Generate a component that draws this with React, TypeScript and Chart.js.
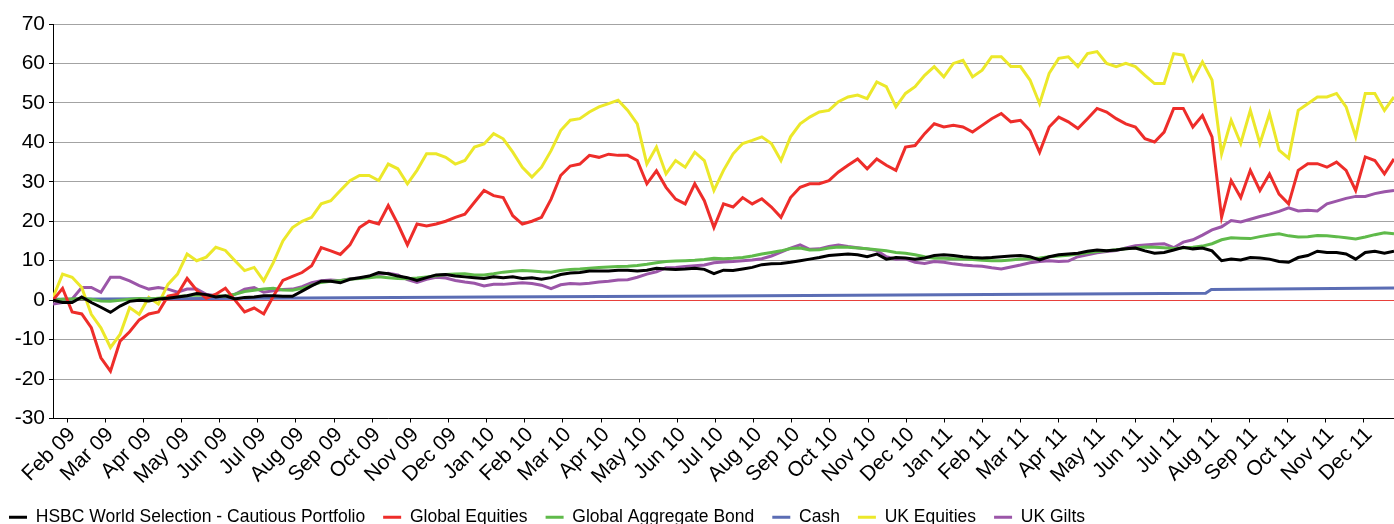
import React, { useEffect, useRef } from 'react';
import { Chart, registerables } from 'chart.js';

Chart.register(...registerables);

const monthLabels = [
  'Feb 09', 'Mar 09', 'Apr 09', 'May 09', 'Jun 09', 'Jul 09', 'Aug 09', 'Sep 09', 'Oct 09', 'Nov 09', 'Dec 09',
  'Jan 10', 'Feb 10', 'Mar 10', 'Apr 10', 'May 10', 'Jun 10', 'Jul 10', 'Aug 10', 'Sep 10', 'Oct 10', 'Nov 10', 'Dec 10',
  'Jan 11', 'Feb 11', 'Mar 11', 'Apr 11', 'May 11', 'Jun 11', 'Jul 11', 'Aug 11', 'Sep 11', 'Oct 11', 'Nov 11', 'Dec 11',
];

// month position of first and last observation (0 = Feb 09)
const startMonth = -0.37;
const endMonth = 34.79;

const hsbc = [
  0, -0.6, -0.6, 0.8, -0.6, -1.8, -3.1, -1.5, -0.3, 0, -0.2, 0.3, 0.5, 0.8, 1.1, 1.7, 1.4, 0.8, 1.1, 0.3, 0.7, 0.8, 1.1, 1.1,
  1, 1, 2.3, 3.6, 4.8, 4.8, 4.4, 5.3, 5.7, 6.1, 7, 6.7, 6.1, 5.7, 5, 5.7, 6.4, 6.5, 6.1, 5.9, 5.7, 5.5, 5.9,
  5.7, 5.9, 5.5, 5.7, 5.3, 5.7, 6.5, 6.9, 7, 7.4, 7.4, 7.4, 7.6, 7.6, 7.4, 7.6, 8.1, 7.9, 7.8, 7.9, 8.1, 7.8, 6.7,
  7.6, 7.5, 7.9, 8.3, 9, 9.2, 9.3, 9.6, 10, 10.4, 10.8, 11.3, 11.5, 11.7, 11.5, 11, 11.7, 10.4, 10.8, 10.7, 10.4, 10.7, 11.3,
  11.5, 11.3, 11, 10.8, 10.7, 10.8, 11, 11.2, 11.3, 11, 10.2, 11, 11.5, 11.7, 11.9, 12.4, 12.7, 12.5, 12.7, 13, 13.2, 12.5, 11.9,
  12.1, 12.7, 13.4, 13, 13.2, 12.5, 10, 10.4, 10.2, 10.8, 10.7, 10.4, 9.8, 9.6, 10.8, 11.3, 12.4, 12.1, 12.1, 11.7, 10.4, 12.1, 12.4, 11.9, 12.4,
];

const globalEquities = [
  0, 3, -3, -3.5, -7, -14.6, -18, -10.4, -8, -5, -3.5, -3, 1, 1.5, 5.5, 2.5, 0.5, 1.5, 3, 0, -3, -2, -3.5, 1,
  5, 6, 7, 8.7, 13.3, 12.5, 11.6, 14, 18.4, 20, 19.3, 24, 19.3, 14, 19.3, 18.8, 19.3, 20, 21, 21.8, 24.8, 27.8, 26.5,
  26, 21.4, 19.3, 20, 21, 25.6, 31.6, 34, 34.5, 36.7, 36.2, 37, 36.7, 36.7, 35.4, 29.5, 32.8, 28.6, 25.6, 24.4, 29.5, 25.2, 18.4,
  24.4, 23.6, 26, 24.4, 25.7, 23.6, 21, 26, 28.6, 29.5, 29.5, 30.3, 32.5, 34.2, 35.8, 33.3, 35.8, 34.2, 32.9, 38.8, 39.2, 42.2, 44.7,
  43.9, 44.3, 43.9, 42.6, 44.3, 46, 47.3, 45.2, 45.6, 43, 37.5, 43.9, 46.4, 45.2, 43.5, 46, 48.6, 47.7, 46, 44.7, 43.9, 40.9, 40.1,
  42.6, 48.6, 48.6, 43.9, 46.8, 41.4, 21, 30.3, 26, 32.9, 27.8, 32, 26.9, 24.4, 32.9, 34.6, 34.6, 33.7, 35, 32.9, 27.8, 36.3, 35.4, 32, 35.8,
];

const globalAggBond = [
  0, 0.2, 0.3, 0.4, 0.2, -0.2, -0.3, 0, 0.2, 0.4, 0.3, 0.5, 0.7, 0.9, 1.1, 1.3, 1.2, 1.1, 1.0, 1.5, 2.2, 2.5, 2.8, 3.0,
  2.6, 2.5, 3, 3.8, 4.5, 4.8, 5, 5.3, 5.5, 5.7, 5.9, 5.7, 5.5, 5.4, 5.6, 5.9, 6.2, 6.5, 6.6, 6.7, 6.4, 6.4, 6.7,
  7.1, 7.3, 7.5, 7.4, 7.2, 7.1, 7.5, 7.8, 7.9, 8.1, 8.3, 8.4, 8.5, 8.6, 8.8, 9.1, 9.5, 9.8, 9.9, 10, 10.1, 10.3, 10.6,
  10.5, 10.6, 10.8, 11.2, 11.7, 12.1, 12.5, 13.1, 13.2, 12.7, 12.8, 13.2, 13.5, 13.4, 13.2, 13, 12.8, 12.5, 12.1, 11.9, 11.5, 11, 10.6,
  10.6, 10.5, 10.4, 10.3, 10.1, 10, 10, 10.2, 10.4, 10.5, 10.7, 11, 11.2, 11.4, 11.7, 12, 12.3, 12.5, 12.8, 13, 13.2, 13.5, 13.4,
  13.3, 13.1, 13.2, 13.4, 13.7, 14.3, 15.3, 15.8, 15.7, 15.6, 16.1, 16.5, 16.8, 16.3, 16, 16.1, 16.4, 16.3, 16.1, 15.8, 15.5, 16, 16.6, 17.1, 16.8,
];

const cashMonths = [-0.37, 5, 11, 17, 23, 29.85, 30.0, 34.79];
const cashValues = [0.2, 0.5, 0.8, 1.05, 1.35, 1.75, 2.7, 3.1];

const ukEquities = [
  0.7, 6.6, 5.8, 3.2, -3.6, -7, -12, -8.7, -1.9, -3.6, 0.7, -1, 4, 6.6, 11.7, 10, 10.9, 13.4, 12.6, 10, 7.5, 8.3, 4.9, 9.5,
  15, 18.4, 20, 21, 24.4, 25.2, 27.8, 30.3, 31.6, 31.6, 30.3, 34.5, 33.3, 29.5, 32.9, 37.1, 37.1, 36.2, 34.5, 35.4, 38.8, 39.6, 42.2,
  40.9, 37.5, 33.7, 31.2, 33.7, 37.9, 43, 45.6, 46, 47.7, 49, 49.8, 50.7, 48.1, 44.7, 34.5, 38.8, 32, 35.4, 33.7, 37.5, 35.4, 27.8,
  32.9, 37.1, 39.7, 40.5, 41.4, 39.7, 35.4, 41.4, 44.7, 46.4, 47.7, 48.1, 50.3, 51.5, 52, 51.1, 55.3, 54.1, 49, 52.4, 54.1, 57, 59.2,
  56.6, 60, 60.8, 56.6, 58.3, 61.7, 61.7, 59.2, 59.2, 55.8, 49.8, 57.5, 61.3, 61.7, 59.2, 62.5, 63, 60, 59.2, 60, 59.2, 57, 54.9,
  54.9, 62.5, 62.1, 55.8, 60.4, 55.8, 37.1, 45.6, 39.7, 48.1, 39.7, 47.3, 38, 36, 48.1, 49.8, 51.5, 51.5, 52.4, 49, 41.4, 52.4, 52.4, 48.1, 51.5,
];

const ukGilts = [
  -1, -0.6, 0.3, 3.2, 3.2, 2, 5.8, 5.8, 4.9, 3.7, 2.8, 3.2, 2.8, 2, 2.8, 2.8, 1.5, 1.1, 0.7, 1.5, 2.8, 3.2, 2, 2.4,
  2.7, 2.8, 3.4, 4.4, 4.9, 5.1, 4.9, 5.4, 5.6, 5.9, 6.5, 6.8, 6.4, 5.2, 4.5, 5.3, 5.8, 5.6, 5.0, 4.6, 4.3, 3.6, 4.0,
  4.0, 4.2, 4.4, 4.2, 3.8, 2.9, 3.9, 4.2, 4.1, 4.3, 4.6, 4.8, 5.1, 5.2, 5.8, 6.6, 7.2, 8.2, 8.3, 8.5, 8.7, 8.9, 9.5,
  9.7, 9.8, 10, 10.2, 10.5, 11.2, 12.2, 13.2, 14, 12.9, 13, 13.6, 14, 13.6, 13.3, 13, 12.6, 11, 10.4, 10.5, 9.6, 9.3, 9.8,
  9.6, 9.2, 8.9, 8.7, 8.6, 8.2, 7.9, 8.4, 8.9, 9.5, 9.8, 10, 9.8, 9.9, 11, 11.5, 12, 12.3, 12.6, 13.2, 13.8, 14, 14.2,
  14.3, 13.3, 14.7, 15.3, 16.5, 17.8, 18.6, 20.2, 19.8, 20.5, 21.2, 21.8, 22.5, 23.4, 22.6, 22.8, 22.6, 24.4, 25.1, 25.8, 26.3, 26.3, 27, 27.5, 27.8,
];

const FONT = '"Liberation Sans", Arial, Helvetica, sans-serif';

export default function App() {
  const ref = useRef<HTMLCanvasElement | null>(null);

  useEffect(() => {
    if (!ref.current) return;
    const n = hsbc.length;
    const step = (endMonth - startMonth) / (n - 1);
    const xs = hsbc.map((_, i) => startMonth + i * step);
    const pts = (arr: number[]) => arr.map((y, i) => ({ x: xs[i], y }));
    const cashPts = cashMonths.map((x, i) => ({ x, y: cashValues[i] }));

    Chart.defaults.font.family = FONT;

    const mk = (label: string, data: any[], color: string) => ({
      label,
      data,
      borderColor: color,
      backgroundColor: color,
      borderWidth: 3,
      pointRadius: 0,
      tension: 0,
      fill: false,
    });

    const chart = new Chart(ref.current, {
      type: 'line',
      data: {
        datasets: [
          mk('HSBC World Selection - Cautious Portfolio', pts(hsbc), '#000000'),
          mk('Global Equities', pts(globalEquities), '#ee2d2a'),
          mk('Global Aggregate Bond', pts(globalAggBond), '#5fba4a'),
          mk('Cash', cashPts, '#5b6db4'),
          mk('UK Equities', pts(ukEquities), '#ece82a'),
          mk('UK Gilts', pts(ukGilts), '#9b56a8'),
        ],
      },
      options: {
        animation: false,
        responsive: false,
        devicePixelRatio: 1,
        layout: { padding: { left: 0, right: 0, top: 24, bottom: 0 } },
        scales: {
          x: {
            type: 'linear',
            min: startMonth,
            max: endMonth,
            afterBuildTicks: (axis: any) => {
              axis.ticks = monthLabels.map((_, i) => ({ value: i }));
            },
            afterFit: (scale: any) => {
              scale.height = 72;
            },
            ticks: {
              autoSkip: false,
              maxRotation: 45,
              minRotation: 45,
              padding: 0,
              labelOffset: 5,
              color: '#000',
              font: { size: 21, family: FONT },
              callback: (v: any) => monthLabels[Math.round(Number(v))] ?? '',
            },
            grid: { drawOnChartArea: false, drawTicks: true, tickLength: 4, color: '#000' },
            border: { color: '#000', width: 1 },
          },
          y: {
            min: -30,
            max: 70,
            afterFit: (scale: any) => {
              scale.width = 62;
            },
            ticks: { stepSize: 10, padding: 4, color: '#000', font: { size: 21, family: FONT } },
            grid: {
              color: (c: any) => (c.tick && c.tick.value === 0 ? '#e8403a' : '#a3a3a3'),
              lineWidth: 1,
              tickColor: '#000',
              tickLength: 4,
            },
            border: { color: '#000', width: 1 },
          },
        },
        plugins: {
          legend: {
            position: 'bottom',
            align: 'start',
            labels: {
              boxWidth: 18,
              boxHeight: 3,
              padding: 18,
              color: '#000',
              font: { size: 17.5, family: FONT },
              generateLabels: (ch: any) =>
                Chart.defaults.plugins.legend.labels
                  .generateLabels(ch)
                  .map((l: any) => ({ ...l, lineWidth: 0 })),
            },
          },
          tooltip: { enabled: false },
        },
      },
    } as any);

    return () => chart.destroy();
  }, []);

  return (
    <div
      style={{
        position: 'fixed',
        left: 0,
        top: 0,
        width: 1394,
        height: 524,
        overflow: 'hidden',
        background: '#fff',
      }}
    >
      <canvas
        ref={ref}
        width={1403}
        height={536}
        style={{ position: 'absolute', left: -9, top: 0, width: 1403, height: 536 }}
      />
    </div>
  );
}
